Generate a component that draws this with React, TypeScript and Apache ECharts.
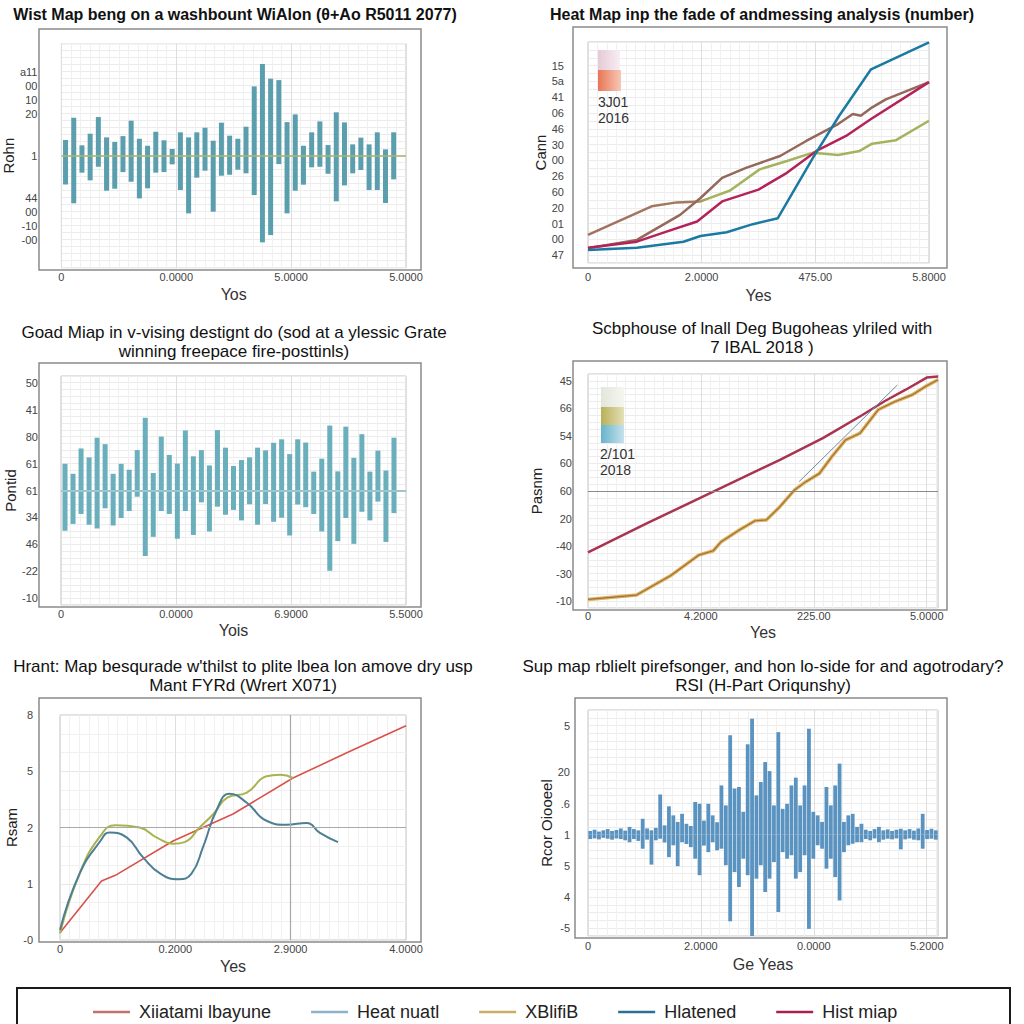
import React, { useEffect, useRef } from 'react';
import * as echarts from 'echarts';

const FONT = '"Liberation Sans", Arial, Helvetica, sans-serif';

// ---------- Titles ----------
const title1 = 'Wist Map beng on a washbount WiAlon (θ+Ao R5011 2077)';
const title2 = 'Heat Map inp the fade of andmessing analysis (number)';
const title3 = 'Goad Miap in v-vising destignt do (sod at a ylessic Grate\nwinning freepace fire-posttinls)';
const title4 = 'Scbphouse of lnall Deg Bugoheas ylriled with\n7 IBAL 2018 )';
const title5 = 'Hrant: Map besqurade w\'thilst to plite lbea lon amove dry usp\nMant FYRd (Wrert X071)';
const title6 = 'Sup map rblielt pirefsonger, and hon lo-side for and agotrodary?\nRSI (H-Part Oriqunshy)';

// ---------- Panel 1 (floating bars) ----------
const p1XLabels = ['0', '0.0000', '5.0000', '5.0000'];
const p1YLabels: [number, string][] = [[6, 'a11'], [5, '00'], [4, '10'], [3, '20'], [0, '1'], [-3, '44'], [-4, '00'], [-5, '-10'], [-6, '-00']];
const p1Up = [1.12, 2.71, 0.74, 1.57, 2.76, 1.31, 0.98, 1.4, 2.5, 1.21, 0.71, 1.71, 1.1, 0.48, 1.67, 1.31, 1.67, 2.0, 1.07, 2.36, 1.43, 1.21, 2.07, 4.95, 6.55, 5.5, 5.4, 2.4, 2.95, 0.71, 1.67, 2.45, 0.76, 3.1, 2.38, 0.81, 1.29, 0.81, 1.67, 0.45, 1.67];
const p1Down = [2.05, 3.4, 1.21, 1.76, 0.79, 2.5, 2.36, 1.17, 1.86, 3.05, 2.33, 1.21, 1.17, 0.62, 2.45, 4.12, 1.57, 1.07, 4.0, 1.43, 1.36, 1.0, 1.26, 2.81, 6.19, 5.67, 0.6, 4.12, 2.5, 2.07, 0.83, 0.79, 1.29, 3.26, 2.12, 1.26, 1.02, 2.45, 2.45, 3.38, 1.69];
const p1Cats = Array.from({ length: 42 }, (_, i) => 'c' + (i + 1));

// ---------- Panel 2 (lines) ----------
const p2XLabels = ['0', '2.0000', '475.00', '5.8000'];
const p2YLabels: [number, string][] = [[12, '15'], [11, '5a'], [10, '41'], [9, '06'], [8, '46'], [7, '30'], [6, '00'], [5, '26'], [4, '60'], [3, '20'], [2, '01'], [1, '00'], [0, '47']];
const p2Brown = [[0, 0.43], [0.43, 0.96], [0.81, 2.55], [0.99, 3.62], [1.18, 4.89], [1.39, 5.53], [1.69, 6.28], [1.92, 7.23], [2.2, 8.3], [2.33, 8.94], [2.4, 8.83], [2.5, 9.36], [2.62, 9.87], [3.0, 10.96]];
const p2Olive = [[0, 1.28], [0.56, 3.09], [0.78, 3.34], [0.99, 3.4], [1.25, 4.09], [1.51, 5.43], [1.75, 5.96], [1.98, 6.49], [2.2, 6.34], [2.39, 6.6], [2.5, 7.06], [2.71, 7.28], [3.0, 8.51]];
const p2Crimson = [[0, 0.47], [0.43, 0.85], [0.69, 1.49], [0.96, 2.13], [1.18, 3.4], [1.5, 4.15], [1.75, 5.21], [2.01, 6.6], [2.27, 7.55], [2.49, 8.62], [3.0, 10.96]];
const p2Teal = [[0, 0.32], [0.43, 0.47], [0.84, 0.85], [0.99, 1.21], [1.22, 1.45], [1.45, 1.96], [1.67, 2.34], [1.98, 6.17], [2.21, 8.83], [2.49, 11.77], [3.0, 13.47]];
const p2KeyText = '3J01\n2016';

// ---------- Panel 3 (floating bars) ----------
const p3XLabels = ['0', '0.0000', '6.9000', '5.5000'];
const p3YLabels: [number, string][] = [[4, '50'], [3, '41'], [2, '80'], [1, '61'], [0, '61'], [-1, '34'], [-2, '46'], [-3, '-22'], [-4, '-10']];
const p3Up = [0.99, 0.62, 1.56, 1.23, 1.96, 1.72, 0.62, 0.99, 0.77, 1.5, 2.7, 0.65, 2.0, 1.32, 1.0, 2.23, 1.27, 1.5, 0.93, 2.24, 1.59, 0.91, 1.13, 1.23, 1.59, 1.49, 1.77, 1.9, 1.35, 1.9, 1.78, 0.7, 1.18, 2.41, 0.71, 2.37, 1.21, 2.09, 0.7, 1.48, 0.74, 1.96];
const p3Down = [1.49, 1.24, 0.87, 1.27, 1.41, 0.66, 1.3, 1.02, 0.76, 0.23, 2.43, 1.72, 0.76, 0.87, 1.79, 0.76, 1.65, 0.44, 1.52, 0.6, 0.9, 0.72, 1.11, 0.51, 1.27, 0.5, 1.16, 1.01, 1.67, 0.52, 0.62, 0.87, 1.52, 2.98, 1.88, 1.02, 1.98, 0.79, 1.11, 0.41, 1.91, 0.84];
const p3Cats = Array.from({ length: 43 }, (_, i) => 'c' + (i + 1));

// ---------- Panel 4 (lines) ----------
const p4XLabels = ['0', '4.2000', '225.00', '5.0000'];
const p4YLabels: [number, string][] = [[8, '45'], [7, '66'], [6, '54'], [5, '60'], [4, '60'], [3, '20'], [2, '-40'], [1, '-30'], [0, '-10']];
const p4Crimson = [[0, 1.77], [0.52, 2.82], [1.11, 3.98], [1.7, 5.13], [2.08, 5.92], [2.43, 6.76], [2.63, 7.27], [2.81, 7.67], [3.0, 8.12], [3.1, 8.16]];
const p4Tan = [[0, 0.06], [0.43, 0.22], [0.73, 0.92], [0.98, 1.67], [1.11, 1.83], [1.18, 2.16], [1.34, 2.58], [1.48, 2.92], [1.58, 2.95], [1.7, 3.43], [1.83, 4.04], [1.93, 4.34], [2.05, 4.64], [2.16, 5.25], [2.28, 5.85], [2.41, 6.1], [2.57, 6.95], [2.72, 7.25], [2.87, 7.49], [3.0, 7.82], [3.1, 8.04]];
const p4Thin = [[1.87, 4.34], [2.74, 7.85]];
const p4RefLine = 4;
const p4KeyText = '2/101\n2018';

// ---------- Panel 5 (lines) ----------
const p5XLabels = ['0', '0.2000', '2.9000', '4.0000'];
const p5YLabels: [number, string][] = [[0, '-0'], [1, '1'], [2, '2'], [3, '5'], [4, '8']];
const p5Red = [[0, 0.13], [0.36, 1.05], [0.48, 1.15], [0.98, 1.76], [1.5, 2.24], [2.02, 2.88], [2.51, 3.35], [3.0, 3.81]];
const p5Olive = [[0, 0.12], [0.17, 1.18], [0.35, 1.85], [0.48, 2.04], [0.69, 2.0], [0.84, 1.82], [0.98, 1.71], [1.08, 1.74], [1.21, 2.0], [1.33, 2.24], [1.45, 2.53], [1.62, 2.62], [1.79, 2.91], [1.91, 2.94], [2.02, 2.88]];
const p5Teal = [[0, 0.18], [0.17, 1.18], [0.35, 1.76], [0.43, 1.91], [0.58, 1.82], [0.72, 1.47], [0.87, 1.18], [1.03, 1.08], [1.14, 1.18], [1.24, 1.65], [1.36, 2.32], [1.47, 2.6], [1.62, 2.44], [1.79, 2.12], [1.96, 2.05], [2.14, 2.08], [2.25, 1.91], [2.41, 1.74]];
const p5RefY = 2;
const p5RefX = 2;

// ---------- Panel 6 (dense waveform bars) ----------
const p6XLabels = ['0', '2.0000', '0.0000', '5.2000'];
const p6YLabels: [number, string][] = [[3.5, '5'], [2, '20'], [1, '.6'], [0, '1'], [-1, '5'], [-2, '4'], [-3, '-5']];
const p6Up = [0.12, 0.16, 0.10, 0.14, 0.18, 0.12, 0.15, 0.20, 0.13, 0.25, 0.18, 0.14, 0.51, 0.20, 0.14, 0.22, 1.29, 0.30, 0.91, 0.62, 0.41, 0.67, 0.35, 0.28, 1.05, 0.99, 0.45, 0.99, 0.62, 0.40, 1.58, 0.94, 3.19, 1.48, 1.53, 0.73, 2.90, 3.72, 1.26, 1.69, 2.33, 2.04, 0.94, 3.29, 0.83, 0.99, 1.58, 1.83, 0.94, 1.58, 3.40, 0.73, 0.62, 0.41, 1.53, 0.94, 1.58, 2.28, 0.41, 0.62, 0.67, 0.25, 0.35, 0.16, 0.12, 0.18, 0.25, 0.14, 0.17, 0.12, 0.16, 0.19, 0.14, 0.18, 0.13, 0.20, 0.67, 0.15, 0.19, 0.14];
const p6Down = [0.14, 0.12, 0.15, 0.10, 0.13, 0.16, 0.12, 0.14, 0.18, 0.24, 0.14, 0.20, 0.45, 0.16, 0.96, 0.18, 0.13, 0.25, 0.72, 0.34, 1.01, 0.24, 0.30, 0.40, 0.77, 1.30, 0.35, 0.56, 0.24, 0.50, 0.45, 0.98, 2.78, 1.20, 1.68, 0.77, 1.30, 3.28, 1.41, 0.98, 1.84, 1.41, 0.88, 2.48, 0.56, 0.77, 0.66, 1.41, 1.20, 0.66, 3.02, 0.77, 0.34, 0.45, 1.09, 0.77, 1.36, 2.11, 0.56, 0.34, 0.29, 0.24, 0.24, 0.14, 0.18, 0.12, 0.24, 0.16, 0.13, 0.15, 0.12, 0.47, 0.15, 0.12, 0.16, 0.18, 0.45, 0.14, 0.13, 0.16];
const p6Cats = Array.from({ length: 80 }, (_, i) => 'c' + (i + 1));

// ---------- Legend ----------
const legendNames = ['Xiiatami lbayune', 'Heat nuatl', 'XBlifiB', 'Hlatened', 'Hist miap'];
const legendColors = ['#c27070', '#8fb2cc', '#cfac66', '#2a6f94', '#a8204f'];

const near = (a: number, b: number) => Math.abs(a - b) < 1e-6;
const yFmt = (pairs: [number, string][]) => (v: number) => {
  const f = pairs.find((p) => near(p[0], v));
  return f ? f[1] : '';
};
const xFmt = (labels: string[]) => (v: number) => {
  const i = Math.round(v);
  return near(i, v) && labels[i] !== undefined ? labels[i] : '';
};

function valX(gridIndex: number, labels: string[], max: number, name: string, nameGap: number, margin: number) {
  return {
    type: 'value', gridIndex, min: 0, max, interval: 1, position: 'bottom',
    axisLine: { show: false }, axisTick: { show: false },
    axisLabel: { formatter: xFmt(labels), color: '#444', fontSize: 11, fontFamily: FONT, margin, showMinLabel: true, showMaxLabel: true },
    splitLine: { show: true, lineStyle: { color: '#dedede', width: 1 } },
    minorTick: { show: false, splitNumber: 12 },
    minorSplitLine: { show: true, lineStyle: { color: '#f0f0f0', width: 1 } },
    name, nameLocation: 'middle', nameGap,
    nameTextStyle: { fontSize: 16, color: '#333', fontFamily: FONT },
  };
}
function catX(gridIndex: number, data: string[]) {
  return { type: 'category', gridIndex, data, show: false, position: 'top', boundaryGap: true };
}
function valY(gridIndex: number, pairs: [number, string][], min: number, max: number, interval: number, name: string, nameGap: number, margin: number, minor = false) {
  return {
    type: 'value', gridIndex, min, max, interval,
    axisLine: { show: false }, axisTick: { show: false },
    axisLabel: { formatter: yFmt(pairs), color: '#444', fontSize: 11, fontFamily: FONT, margin, showMinLabel: true, showMaxLabel: true },
    splitLine: { show: true, lineStyle: { color: minor ? '#e6e6e6' : '#ececec', width: 1 } },
    minorTick: { show: false, splitNumber: 3 },
    minorSplitLine: { show: minor, lineStyle: { color: '#f0f0f0' } },
    name, nameLocation: 'middle', nameGap, nameRotate: 90,
    nameTextStyle: { fontSize: 15, color: '#222', fontFamily: FONT },
  };
}
const gridStyle = { show: true, borderColor: '#c4c4c4', borderWidth: 1, backgroundColor: '#ffffff' };

function grad(c1: string, c2: string) {
  return new echarts.graphic.LinearGradient(0, 0, 1, 0, [
    { offset: 0, color: c1 },
    { offset: 1, color: c2 },
  ]);
}
function titleText(x: number, y: number, text: string, bold: boolean, size: number) {
  return {
    type: 'text', x, y, silent: true,
    style: {
      text, fill: '#111', fontSize: size, fontFamily: FONT, fontWeight: bold ? 'bold' : 'normal',
      align: 'center', verticalAlign: 'middle', textAlign: 'center', textVerticalAlign: 'middle', lineHeight: 19,
    },
  };
}
function box(x: number, y: number, w: number, h: number, color = '#8a8a8a', lw = 1.5) {
  return { type: 'rect', shape: { x, y, width: w, height: h }, silent: true, z: 10, style: { fill: 'none', stroke: color, lineWidth: lw } };
}
function swatch(x: number, y: number, w: number, h: number, c1: string, c2: string) {
  return { type: 'rect', shape: { x, y, width: w, height: h }, silent: true, z: 20, style: { fill: grad(c1, c2) } };
}
function keyText(x: number, y: number, text: string) {
  return {
    type: 'text', x, y, silent: true, z: 20,
    style: { text, fill: '#333', fontSize: 14, fontFamily: FONT, lineHeight: 16, align: 'left', verticalAlign: 'top', textAlign: 'left', textVerticalAlign: 'top' },
  };
}
const hideLine = { silent: true, symbol: 'none', label: { show: false } };

export default function App() {
  const ref = useRef<HTMLDivElement>(null);
  useEffect(() => {
    if (!ref.current) return;
    const chart = echarts.init(ref.current, undefined, { renderer: 'svg' });
    const p1Color = '#5b9fae';
    const p3Color = '#6aafbb';
    const p6Color = '#5a93c0';
    const option: any = {
      animation: false,
      backgroundColor: '#ffffff',
      grid: [
        { left: 61, top: 43.7, width: 345, height: 224, ...gridStyle },
        { left: 588, top: 42, width: 341, height: 221, ...gridStyle },
        { left: 61, top: 376, width: 345, height: 229, ...gridStyle },
        { left: 588, top: 374, width: 350, height: 234, ...gridStyle },
        { left: 60, top: 715, width: 346, height: 225, ...gridStyle },
        { left: 588, top: 710, width: 350, height: 226, ...gridStyle },
      ],
      xAxis: [
        valX(0, p1XLabels, 3, 'Yos', 19, 4),
        catX(0, p1Cats),
        valX(1, p2XLabels, 3, 'Yes', 24, 8),
        valX(2, p3XLabels, 3, 'Yois', 17, 3),
        catX(2, p3Cats),
        valX(3, p4XLabels, 3.1, 'Yes', 16, 2),
        valX(4, p5XLabels, 3, 'Yes', 18, 3),
        valX(5, p6XLabels, 3.1, 'Ge Yeas', 20, 4),
        catX(5, p6Cats),
      ],
      yAxis: [
        valY(0, p1YLabels, -8, 8, 0.5, 'Rohn', 40, 24),
        valY(1, p2YLabels, -0.5, 13.5, 0.5, 'Cann', 36, 24),
        valY(2, p3YLabels, -4.25, 4.25, 0.25, 'Pontid', 40, 23),
        valY(3, p4YLabels, -0.25, 8.25, 0.25, 'Pasnm', 44, 16),
        valY(4, p5YLabels, 0, 4, 1, 'Rsam', 40, 27, true),
        valY(5, p6YLabels, -3.25, 4, 0.25, 'Rcor Oiooeel', 31, 18),
      ],
      legend: {
        left: 93, top: 1003, padding: 0, icon: 'rect', itemWidth: 37, itemHeight: 2.5, itemGap: 40,
        textStyle: { fontSize: 18, color: '#222', fontFamily: FONT, padding: [0, 0, 0, 4] },
        data: legendNames.map((n, i) => ({ name: n, itemStyle: { color: legendColors[i] } })),
      },
      series: [
        // Panel 1
        {
          type: 'bar', name: 'p1up', xAxisIndex: 1, yAxisIndex: 0, data: p1Up, barWidth: 5, barGap: '-100%',
          itemStyle: { color: p1Color },
          markLine: { ...hideLine, lineStyle: { color: '#a9b26c', width: 1.5, type: 'solid' }, data: [{ yAxis: 0 }] },
        },
        { type: 'bar', name: 'p1down', xAxisIndex: 1, yAxisIndex: 0, data: p1Down.map((v) => -v), barWidth: 5, barGap: '-100%', itemStyle: { color: p1Color } },
        // Panel 2
        {
          type: 'line', name: 'p2olive', xAxisIndex: 2, yAxisIndex: 1, data: p2Olive, showSymbol: false, symbol: 'none',
          lineStyle: {
            width: 2.5,
            color: new echarts.graphic.LinearGradient(0, 0, 1, 0, [
              { offset: 0, color: '#a2705f' }, { offset: 0.3, color: '#a27a5e' },
              { offset: 0.36, color: '#a5b35f' }, { offset: 1, color: '#a5b35f' },
            ]),
          },
        },
        { type: 'line', name: 'p2brown', xAxisIndex: 2, yAxisIndex: 1, data: p2Brown, showSymbol: false, symbol: 'none', lineStyle: { width: 2.5, color: '#94685a' } },
        { type: 'line', name: 'Hist miap', xAxisIndex: 2, yAxisIndex: 1, data: p2Crimson, showSymbol: false, symbol: 'none', itemStyle: { color: '#b3235a' }, lineStyle: { width: 2.5, color: '#b3235a' } },
        { type: 'line', name: 'Hlatened', xAxisIndex: 2, yAxisIndex: 1, data: p2Teal, showSymbol: false, symbol: 'none', itemStyle: { color: '#1c7aa2' }, lineStyle: { width: 2.5, color: '#1c7aa2' } },
        // Panel 3
        {
          type: 'bar', name: 'p3up', xAxisIndex: 4, yAxisIndex: 2, data: p3Up, barWidth: 5, barGap: '-100%',
          itemStyle: { color: p3Color },
          markLine: { ...hideLine, lineStyle: { color: '#9cc6cb', width: 2, type: 'solid' }, data: [{ yAxis: 0 }] },
        },
        { type: 'bar', name: 'p3down', xAxisIndex: 4, yAxisIndex: 2, data: p3Down.map((v) => -v), barWidth: 5, barGap: '-100%', itemStyle: { color: p3Color } },
        // Panel 4
        {
          type: 'line', name: 'p4crimson', xAxisIndex: 5, yAxisIndex: 3, data: p4Crimson, showSymbol: false, symbol: 'none', lineStyle: { width: 2.5, color: '#a8344f' },
          markLine: { ...hideLine, lineStyle: { color: '#8a8a8a', width: 1.2, type: 'solid' }, data: [{ yAxis: p4RefLine }] },
        },
        { type: 'line', name: 'XBlifiB', xAxisIndex: 5, yAxisIndex: 3, data: p4Tan, showSymbol: false, symbol: 'none', itemStyle: { color: '#e2b256' }, lineStyle: { width: 3.5, color: '#e2b256' } },
        { type: 'line', name: 'p4tancore', xAxisIndex: 5, yAxisIndex: 3, data: p4Tan, showSymbol: false, symbol: 'none', lineStyle: { width: 1.2, color: '#9a7248' } },
        { type: 'line', name: 'p4thin', xAxisIndex: 5, yAxisIndex: 3, data: p4Thin, showSymbol: false, symbol: 'none', lineStyle: { width: 1, color: '#6a8ca2' } },
        // Panel 5
        {
          type: 'line', name: 'Xiiatami lbayune', xAxisIndex: 6, yAxisIndex: 4, data: p5Red, showSymbol: false, symbol: 'none', itemStyle: { color: '#d9524b' }, lineStyle: { width: 1.6, color: '#d9524b' },
          markLine: { ...hideLine, lineStyle: { color: '#a8a8a8', width: 1.2, type: 'solid' }, data: [{ yAxis: p5RefY }, { xAxis: p5RefX }] },
        },
        { type: 'line', name: 'p5olive', xAxisIndex: 6, yAxisIndex: 4, data: p5Olive, smooth: 0.5, showSymbol: false, symbol: 'none', lineStyle: { width: 2, color: '#a8b34c' } },
        { type: 'line', name: 'p5teal', xAxisIndex: 6, yAxisIndex: 4, data: p5Teal, smooth: 0.5, showSymbol: false, symbol: 'none', lineStyle: { width: 2, color: '#4d7e94' } },
        // Panel 6
        { type: 'bar', name: 'Heat nuatl', xAxisIndex: 8, yAxisIndex: 5, data: p6Up, barWidth: 3.8, barGap: '-100%', itemStyle: { color: p6Color } },
        { type: 'bar', name: 'Heat nuatl', xAxisIndex: 8, yAxisIndex: 5, data: p6Down.map((v) => -v), barWidth: 3.8, barGap: '-100%', itemStyle: { color: p6Color } },
      ],
      graphic: [
        titleText(235, 14, title1, true, 16),
        titleText(762, 14, title2, true, 16),
        titleText(234, 342, title3, false, 17),
        titleText(762, 338, title4, false, 17),
        titleText(243, 676, title5, false, 17),
        titleText(763, 676, title6, false, 17),
        box(39, 29, 382, 241),
        box(573, 27, 374, 241),
        box(39, 363, 382, 244),
        box(573, 361, 374, 249),
        box(39, 698, 382, 244),
        box(575, 698, 372, 240),
        box(17, 988, 993, 45, '#1a1a1a', 2),
        swatch(598, 50, 22, 20, '#e6c9d6', '#f7eef2'),
        swatch(598, 70, 23, 21, '#e87656', '#f6c8b6'),
        keyText(598, 94, p2KeyText),
        swatch(601, 387, 23, 20, '#e2e6da', '#f6f6f0'),
        swatch(601, 407, 23, 18, '#b8b058', '#e4e0b8'),
        swatch(601, 425, 23, 18, '#68b3cc', '#c4e2ec'),
        keyText(600, 446, p4KeyText),
      ],
    };
    chart.setOption(option);
    return () => chart.dispose();
  }, []);
  return <div ref={ref} style={{ position: 'fixed', left: 0, top: 0, width: 1024, height: 1024, background: '#fff' }} />;
}
